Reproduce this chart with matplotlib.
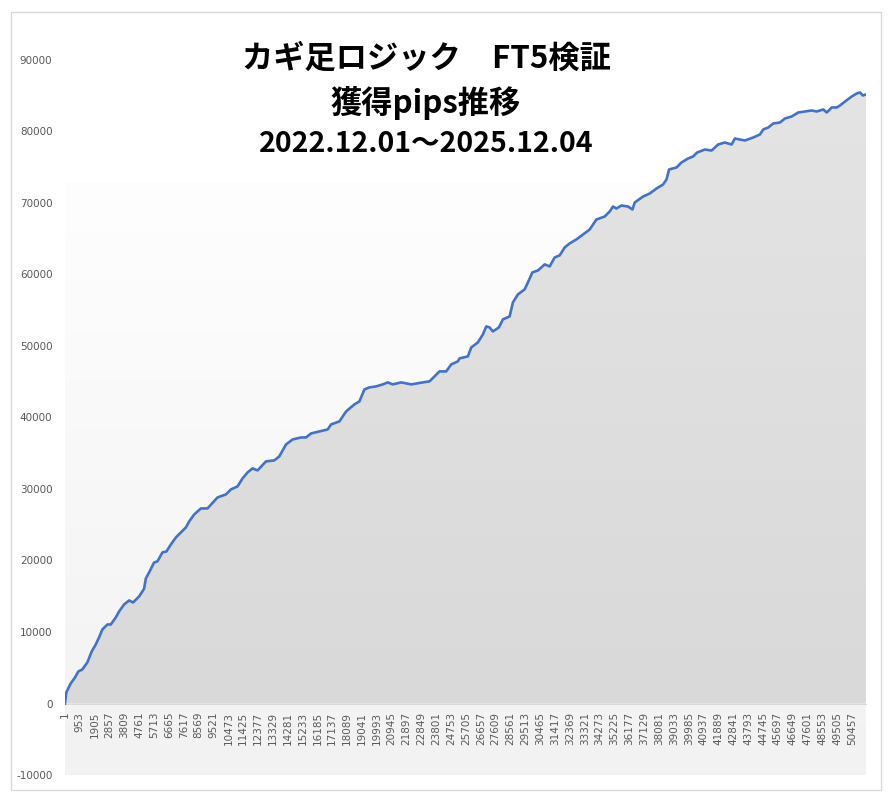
import numpy as np
import matplotlib
matplotlib.use('Agg')
import matplotlib.pyplot as plt
from matplotlib.colors import LinearSegmentedColormap
from matplotlib.patches import Rectangle

plt.rcParams['font.family'] = ['Noto Sans CJK JP', 'DejaVu Sans']

# 累積獲得pips (トレード番号, pips) -- グラフから読み取り
trade_no = [1, 84, 366, 642, 854, 1111, 1432, 1714, 1971, 2183, 2395, 2716, 2934,
            3255, 3467, 3788, 4109, 4366, 4751, 5072, 5181, 5393, 5714, 5926, 6247,
            6504, 6786, 7107, 7428, 7749, 7961, 8282, 8712, 9136, 9778, 10317, 10638,
            11062, 11383, 11704, 12025, 12346, 12885, 13418, 13739, 14169, 14593,
            15132, 15453, 15774, 16307, 16840, 17058, 17591, 18021, 18554, 18875,
            19196, 19517, 19947, 20371, 20692, 21013, 21552, 22194, 22939, 23368,
            23689, 24010, 24440, 24761, 25185, 25294, 25826, 26045, 26469, 26790,
            27008, 27220, 27432, 27817, 28074, 28504, 28716, 29037, 29467, 29679,
            29961, 30321, 30751, 31072, 31393, 31714, 32035, 32356, 32786, 33636,
            34066, 34599, 34920, 35132, 35350, 35671, 36095, 36377, 36525, 37058,
            37488, 37918, 38342, 38560, 38727, 39202, 39523, 39947, 40268, 40525,
            41019, 41449, 41873, 42303, 42733, 42945, 43587, 44120, 44550, 44762,
            45083, 45404, 45834, 46155, 46585, 47009, 47439, 47869, 48190, 48614,
            48832, 49153, 49474, 49686, 50007, 50437, 50758, 50970, 51143, 51350]
pips = [0, 1540, 2800, 3640, 4480, 4760, 5740, 7280, 8250, 9230, 10350, 11050, 11050,
        12030, 12870, 13850, 14410, 14130, 14970, 16050, 17480, 18330, 19730, 19870,
        21130, 21260, 22240, 23220, 23920, 24620, 25460, 26440, 27280, 27280, 28820,
        29240, 29940, 30360, 31480, 32320, 32880, 32600, 33860, 34000, 34560, 36230,
        36930, 37210, 37210, 37770, 38050, 38330, 39030, 39450, 40850, 41830, 42250,
        43930, 44210, 44350, 44630, 44910, 44630, 44910, 44630, 44910, 45050, 45750,
        46450, 46450, 47430, 47850, 48270, 48540, 49800, 50500, 51620, 52740, 52600,
        52040, 52600, 53720, 54140, 56100, 57220, 57920, 58900, 60290, 60570, 61410,
        61130, 62390, 62670, 63790, 64350, 64910, 66290, 67690, 68110, 68810, 69510,
        69230, 69650, 69510, 69090, 70070, 70910, 71330, 72030, 72590, 73290, 74690,
        74970, 75670, 76230, 76510, 77060, 77480, 77340, 78180, 78460, 78180, 79020,
        78740, 79160, 79580, 80280, 80560, 81120, 81260, 81820, 82100, 82660, 82800,
        82940, 82800, 83080, 82660, 83360, 83360, 83640, 84200, 84900, 85320, 85460,
        85040, 85180]

n_trades = 51350
tick_step = 952
x_ticks = list(range(1, n_trades, tick_step))
y_ticks = [-10000, 0, 10000, 20000, 30000, 40000, 50000, 60000, 70000, 80000, 90000]
title_lines = ['カギ足ロジック　FT5検証', '獲得pips推移', '2022.12.01～2025.12.04']

fig = plt.figure(figsize=(8.95, 8.07), dpi=100)
fig.patches.append(Rectangle((11 / 895, 1 - 790 / 807), 870 / 895, 778 / 807,
                             transform=fig.transFigure, fill=False,
                             edgecolor='#d9d9d9', lw=1))
ax = fig.add_axes([65 / 895, 1 - 775 / 807, 801 / 895, 715 / 807])

# x axis crosses at 0 (set before tick labels, set_position resets them)
for s in ax.spines.values():
    s.set_visible(False)
ax.spines['bottom'].set_visible(True)
ax.spines['bottom'].set_position(('data', 0))
ax.spines['bottom'].set_color('#d9d9d9')
ax.spines['bottom'].set_zorder(2)

ax.set_xlim(1, n_trades)
ax.set_ylim(-10000, 90000)

# plot area background gradient
bg = LinearSegmentedColormap.from_list('bg', ['#f2f2f2', '#fefefe'])
ax.imshow(np.linspace(0, 1, 256).reshape(-1, 1)[::-1], cmap=bg, aspect='auto',
          extent=[1, n_trades, -10000, 72800], zorder=0, vmin=0, vmax=1)

# area under curve
fill = ax.fill_between(trade_no, pips, 0, color='none', lw=0)
ar = LinearSegmentedColormap.from_list('ar', ['#d9d9d9', '#e4e4e4'])
im = ax.imshow(np.linspace(0, 1, 256).reshape(-1, 1)[::-1], cmap=ar, aspect='auto',
               extent=[1, n_trades, 0, 86000], zorder=1, vmin=0, vmax=1)
path = fill.get_paths()[0]
im.set_clip_path(path, transform=ax.transData)

ax.plot(trade_no, pips, color='#4472c4', lw=1.9, zorder=3)

ax.set_xticks(x_ticks)
ax.set_xticklabels([str(t) for t in x_ticks], rotation=90, fontsize=7.5,
                   color='#595959', family='DejaVu Sans')
ax.set_yticks(y_ticks)
ax.set_yticklabels([str(t) for t in y_ticks], fontsize=7.5, color='#595959',
                   family='DejaVu Sans')
ax.tick_params(axis='both', length=0)
ax.tick_params(axis='y', pad=9)
ax.tick_params(axis='x', pad=6)
ax.set_ylim(-10000, 90000)
ax.set_xlim(1, n_trades)

for line, yc, fs in zip(title_lines, [59, 103, 144], [22.5, 22.5, 20.5]):
    fig.text(426 / 895, 1 - yc / 807, line, ha='center', va='center',
             fontsize=fs, fontweight='bold', color='black')

fig.savefig('out.png', dpi=100)
